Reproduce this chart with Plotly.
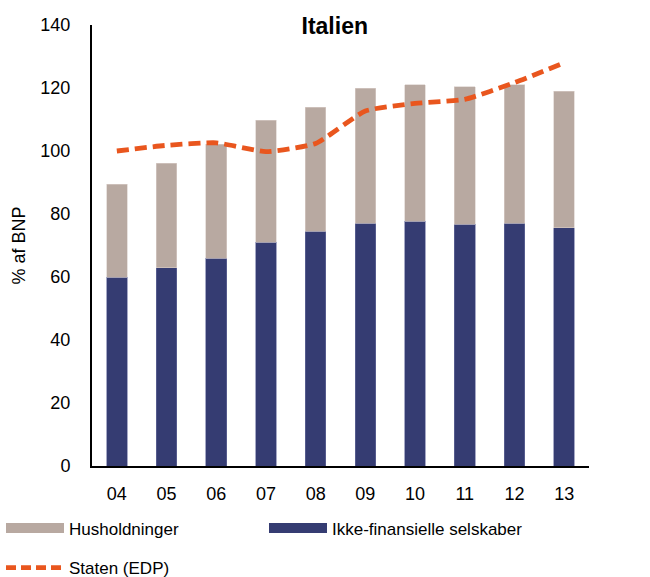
import plotly.graph_objects as go

years = ["04", "05", "06", "07", "08", "09", "10", "11", "12", "13"]
ikke_fin = [60.0, 63.0, 66.0, 71.1, 74.6, 77.1, 77.7, 76.7, 77.1, 75.6]
husholdninger = [29.5, 33.1, 36.2, 38.7, 39.3, 42.9, 43.3, 43.7, 43.9, 43.4]
staten = [100.0, 101.8, 102.6, 99.8, 102.4, 112.7, 115.1, 116.4, 121.7, 128.0]

C_HUS = "#B8A9A1"
C_IKKE = "#353C72"
C_STAT = "#E9561E"
FONT = "Liberation Sans, Arial, sans-serif"

W, H = 650, 577
ML, MR, MT, MB = 92, 61, 25, 111
PW, PH = W - ML - MR, H - MT - MB

fig = go.Figure()
fig.add_trace(go.Bar(x=years, y=ikke_fin, name="Ikke-finansielle selskaber",
                     marker=dict(color=C_IKKE, line=dict(color="#6A70A0", width=0.6)),
                     showlegend=False))
fig.add_trace(go.Bar(x=years, y=husholdninger, name="Husholdninger",
                     marker=dict(color=C_HUS, line=dict(color="#D8CFCA", width=0.6)),
                     showlegend=False))
fig.add_trace(go.Scatter(x=years, y=staten, name="Staten (EDP)", mode="lines",
                         line=dict(color=C_STAT, width=4.8, dash="12px,6px",
                                   shape="spline", smoothing=0.5),
                         showlegend=False))

# legend entries
fig.add_trace(go.Scatter(x=[None], y=[None], name="Husholdninger", mode="lines",
                         line=dict(color=C_HUS, width=11), legend="legend"))
fig.add_trace(go.Scatter(x=[None], y=[None], name="Ikke-finansielle selskaber", mode="lines",
                         line=dict(color=C_IKKE, width=11), legend="legend"))
fig.add_trace(go.Scatter(x=[None], y=[None], name="Staten (EDP)", mode="lines",
                         line=dict(color=C_STAT, width=4.8, dash="10px,5px"), legend="legend2"))

lx = (1 - ML) / PW
fig.update_layout(
    width=W, height=H,
    margin=dict(l=ML, r=MR, t=MT, b=MB, autoexpand=False),
    paper_bgcolor="white", plot_bgcolor="white",
    barmode="stack", bargap=0.585,
    font=dict(family=FONT, size=18, color="black"),
    title=dict(text="<b>Italien</b>", x=0.515, xanchor="center", y=1 - 26 / H,
               yanchor="middle", xref="container", yref="container",
               font=dict(family=FONT, size=23, color="black")),
    xaxis=dict(showline=True, linecolor="black", linewidth=2, ticks="",
               showgrid=False, tickfont=dict(size=18), range=[-0.5, 9.5],
               ticklabelstandoff=10),
    yaxis=dict(range=[0, 140], dtick=20, showline=True, linecolor="black", linewidth=2,
               ticks="", showgrid=False, zeroline=False, tickfont=dict(size=18),
               ticklabelstandoff=16,
               title=dict(text="% af BNP", font=dict(size=18), standoff=10)),
    legend=dict(orientation="h", x=lx, xanchor="left",
                y=-(528.5 - (H - MB)) / PH, yanchor="middle",
                entrywidth=190, entrywidthmode="pixels",
                traceorder="normal",
                itemwidth=58, font=dict(family=FONT, size=17, color="black"),
                bgcolor="rgba(0,0,0,0)"),
    legend2=dict(orientation="h", x=lx, xanchor="left",
                 y=-(568 - (H - MB)) / PH, yanchor="middle", itemwidth=58,
                 font=dict(family=FONT, size=17, color="black"),
                 bgcolor="rgba(0,0,0,0)"),
)

fig.write_html("out.html", config={"displayModeBar": False},
               post_script="document.body.style.margin='0px';")
